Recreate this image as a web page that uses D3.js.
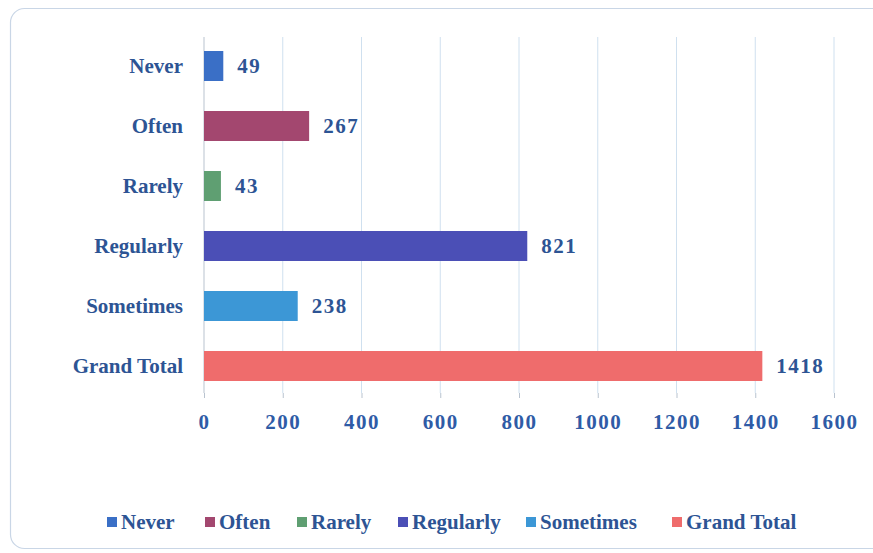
<!DOCTYPE html>
<html><head><meta charset="utf-8">
<script src="https://cdn.jsdelivr.net/npm/d3@7"></script>
<style>body{margin:0;background:#fff}svg{display:block}</style>
</head><body><svg id="c" width="873" height="553"></svg>
<script>
const categories = ["Never","Often","Rarely","Regularly","Sometimes","Grand Total"];
const values = [49,267,43,821,238,1418];
const colors = ["#3a6fc6","#a3476f","#5f9f72","#4b4fb6","#3c97d6","#ef6c6c"];
const xTicks = [0,200,400,600,800,1000,1200,1400,1600];

const svg = d3.select("#c");
const font = "'Liberation Serif', serif";
const txt = "#2d5494";

svg.append("rect").attr("x",10.5).attr("y",8.5).attr("width",880).attr("height",540)
  .attr("rx",14).attr("fill","#fff").attr("stroke","#c9d6e6").attr("stroke-width",1.2);

const x = d3.scaleLinear().domain([0,1600]).range([204,834]);
const y = d3.scaleBand().domain(categories).range([36,396]).paddingInner(0.5).paddingOuter(0.25);

const g = svg.append("g");
g.selectAll("line.grid").data(xTicks).join("line").attr("class","grid")
  .attr("x1",d=>x(d)).attr("x2",d=>x(d)).attr("y1",37).attr("y2",393)
  .attr("stroke",(d,i)=>i===0?"#b9c3cf":"#cfe0ef").attr("stroke-width",1);

const ax = svg.append("g").attr("transform","translate(0,393)")
  .call(d3.axisBottom(x).tickValues(xTicks).tickSize(5).tickPadding(16).tickFormat(d3.format("d")));
ax.select(".domain").remove();
ax.selectAll(".tick line").attr("stroke","#b9c3cf");
ax.selectAll("text").attr("font-family",font).attr("font-weight","bold").attr("font-size",21)
  .attr("letter-spacing",1.5).attr("fill","#2f5ba6");

const ay = svg.append("g").attr("transform","translate(204,0)")
  .call(d3.axisLeft(y).tickSize(0).tickPadding(21));
ay.select(".domain").remove();
ay.selectAll("text").attr("font-family",font).attr("font-weight","bold").attr("font-size",21).attr("fill",txt);

svg.selectAll("rect.bar").data(categories).join("rect").attr("class","bar")
  .attr("x",x(0)).attr("y",d=>y(d)).attr("height",y.bandwidth())
  .attr("width",(d,i)=>x(values[i])-x(0)).attr("fill",(d,i)=>colors[i]);

svg.selectAll("text.val").data(categories).join("text").attr("class","val")
  .attr("x",(d,i)=>x(values[i])+14).attr("y",d=>y(d)+y.bandwidth()/2).attr("dy","0.35em")
  .attr("font-family",font).attr("font-weight","bold").attr("font-size",21).attr("letter-spacing",1.5)
  .attr("fill",txt).text((d,i)=>values[i]);

const legX = [107,205,297,398,526,672];
const lg = svg.selectAll("g.leg").data(categories).join("g").attr("class","leg")
  .attr("transform",(d,i)=>`translate(${legX[i]},522)`);
lg.append("rect").attr("x",0).attr("y",-5).attr("width",10).attr("height",10).attr("fill",(d,i)=>colors[i]);
lg.append("text").attr("x",14).attr("dy","0.35em").attr("font-family",font).attr("font-weight","bold")
  .attr("font-size",21).attr("fill",txt).text(d=>d);
</script></body></html>
